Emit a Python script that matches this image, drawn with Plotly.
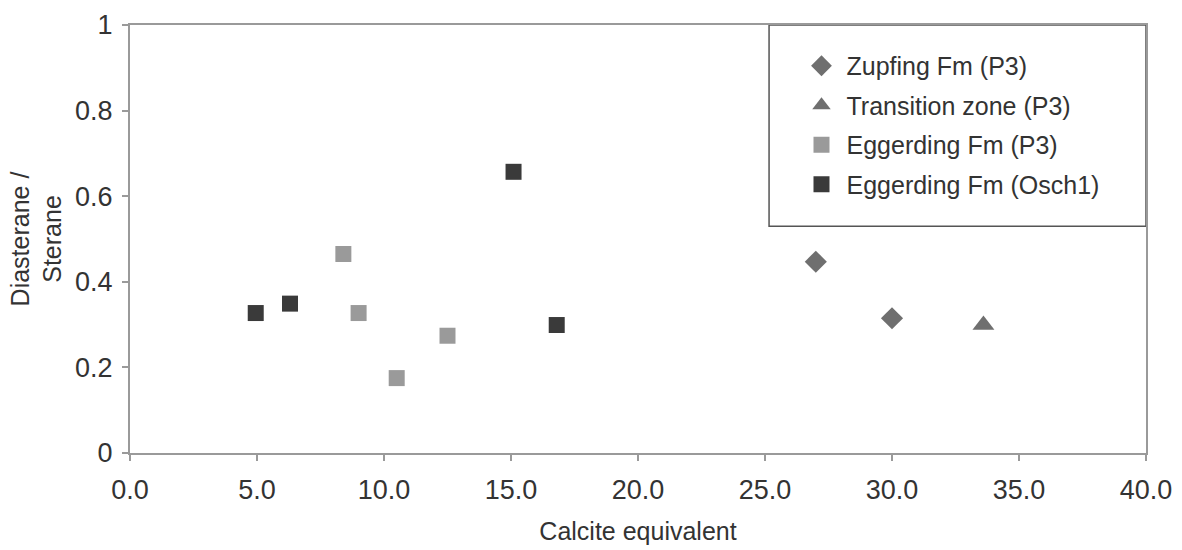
import plotly.graph_objects as go

# Data
zupfing_x = [27.0, 30.0]
zupfing_y = [0.447, 0.315]
transition_x = [33.6]
transition_y = [0.299]
egg_p3_x = [8.4, 9.0, 10.5, 12.5]
egg_p3_y = [0.465, 0.327, 0.175, 0.274]
egg_osch_x = [4.95, 6.3, 15.1, 16.8]
egg_osch_y = [0.327, 0.349, 0.657, 0.299]

names = ["Zupfing Fm (P3)", "Transition zone (P3)", "Eggerding Fm (P3)", "Eggerding Fm (Osch1)"]
x_ticks = [0, 5, 10, 15, 20, 25, 30, 35, 40]
y_ticks = [0, 0.2, 0.4, 0.6, 0.8, 1]

text_color = "#333333"
axis_color = "#9a9a9a"
FONT = "Liberation Sans, Arial, sans-serif"

fig = go.Figure()
series = [
    (zupfing_x, zupfing_y, "diamond", 17, "#6f6f6f"),
    (transition_x, transition_y, "triangle-up", 19, "#6f6f6f"),
    (egg_p3_x, egg_p3_y, "square", 16, "#9a9a9a"),
    (egg_osch_x, egg_osch_y, "square", 16, "#3a3a3a"),
]
for i, (xs, ys, sym, size, col) in enumerate(series):
    fig.add_trace(go.Scatter(
        x=xs, y=ys, mode="markers", name=names[i], legendgroup=str(i),
        marker=dict(symbol=sym, size=size, color=col, line=dict(width=0)),
    ))

# legend frame
fig.add_shape(type="rect", xref="paper", yref="paper",
              x0=0.629, x1=1.0, y0=0.53, y1=1.0,
              line=dict(color="#555555", width=1.5), fillcolor="white", layer="below")

fig.update_layout(
    width=1182, height=550,
    margin=dict(l=130, r=36, t=25, b=97),
    paper_bgcolor="white", plot_bgcolor="white",
    font=dict(family=FONT, size=24, color=text_color),
    showlegend=True,
    legend=dict(
        x=0.656, y=0.958, xanchor="left", yanchor="top",
        bgcolor="rgba(0,0,0,0)", borderwidth=0,
        traceorder="grouped", tracegroupgap=4,
        font=dict(family=FONT, size=25, color=text_color),
        itemsizing="trace", itemwidth=40,
    ),
    xaxis=dict(
        range=[0, 40], tickvals=x_ticks, tickformat=".1f",
        showgrid=False, zeroline=False, automargin=False,
        showline=True, linecolor=axis_color, linewidth=2, mirror=True,
        ticks="outside", ticklen=6, tickcolor=axis_color, tickwidth=1.5,
        tickfont=dict(family=FONT, size=27, color=text_color),
        ticklabelstandoff=6,
        title=dict(text="Calcite equivalent", font=dict(family=FONT, size=25, color=text_color), standoff=18),
    ),
    yaxis=dict(
        range=[0, 1], tickvals=y_ticks,
        showgrid=False, zeroline=False, automargin=False,
        showline=True, linecolor=axis_color, linewidth=2, mirror=True,
        ticks="outside", ticklen=6, tickcolor=axis_color, tickwidth=1.5,
        tickfont=dict(family=FONT, size=27, color=text_color),
        ticklabelstandoff=4,
        title=dict(text="Diasterane /<br>Sterane", font=dict(family=FONT, size=25, color=text_color), standoff=6),
    ),
)

fig.write_html("out.html")
